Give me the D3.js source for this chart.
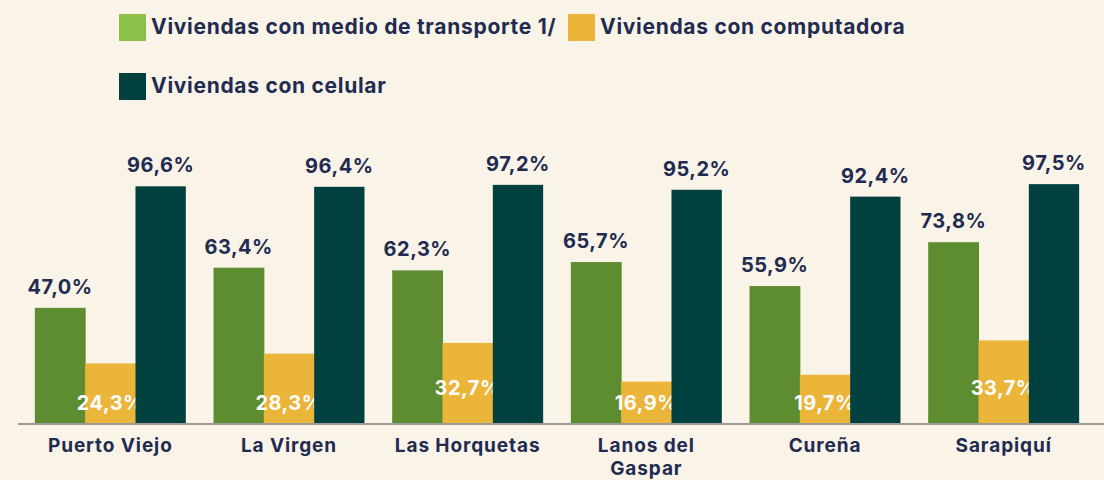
<!DOCTYPE html>
<html>
<head>
<meta charset="utf-8">
<script src="https://cdn.jsdelivr.net/npm/d3@7"></script>
<style>
  body { margin: 0; background: #faf3e8; }
  svg { display: block; font-family: "Inter", "Lato", sans-serif; font-weight: 700; }
</style>
</head>
<body>
<svg id="chart" width="1104" height="480"></svg>
<script>
// data
const categories = ["Puerto Viejo", "La Virgen", "Las Horquetas", "Lanos del Gaspar", "Cureña", "Sarapiquí"];
const seriesNames = ["Viviendas con medio de transporte 1/", "Viviendas con computadora", "Viviendas con celular"];
const transporte = [47.0, 63.4, 62.3, 65.7, 55.9, 73.8];
const computadora = [24.3, 28.3, 32.7, 16.9, 19.7, 33.7];
const celular = [96.6, 96.4, 97.2, 95.2, 92.4, 97.5];

const barColors = ["#5e8c31", "#ebb53a", "#00413f"];
const legendColors = ["#8cc04b", "#ebb53a", "#00413f"];
const navy = "#1f2b50";

const svg = d3.select("#chart");
const baseY = 423;

const x0 = d3.scaleBand().domain(categories).range([21, 1093]).paddingInner(0.155).paddingOuter(0.0775);
const x1 = d3.scaleBand().domain([0, 1, 2]).range([0, x0.bandwidth()]);
const y = d3.scaleLinear().domain([0, 100]).range([baseY, 178]);

const allSeries = [transporte, computadora, celular];

// bars
const groups = svg.selectAll("g.cat")
  .data(categories)
  .join("g")
  .attr("class", "cat")
  .attr("transform", d => "translate(" + x0(d) + ",0)");

groups.each(function(cat, ci) {
  const g = d3.select(this);
  allSeries.forEach(function(vals, si) {
    const v = vals[ci];
    g.append("rect")
      .attr("x", x1(si))
      .attr("y", y(v))
      .attr("width", x1.bandwidth() + (si < 2 ? 0.5 : 0))
      .attr("height", baseY - y(v))
      .attr("fill", barColors[si]);

    const label = v.toFixed(1).replace(".", ",") + "%";
    const cx = x1(si) + x1.bandwidth() / 2;
    const t = g.append("text")
      .attr("x", cx)
      .attr("text-anchor", "middle")
      .attr("font-size", 20)
      .attr("letter-spacing", 0.5);
    if (si === 1) {
      // labels inside yellow bars, near the base
      t.attr("y", v > 30 ? baseY - 28 : baseY - 13).attr("fill", "#ffffff");
    } else {
      t.attr("y", y(v) - 14).attr("fill", navy);
    }
    t.text(label);
  });
});

// axis line
svg.append("line")
  .attr("x1", 18).attr("x2", 1104)
  .attr("y1", baseY + 1).attr("y2", baseY + 1)
  .attr("stroke", "#9a9a9a")
  .attr("stroke-width", 2);

// category labels (wrap the long one)
const wrapped = {"Lanos del Gaspar": ["Lanos del", "Gaspar"]};
categories.forEach(function(cat) {
  const lines = wrapped[cat] || [cat];
  const t = svg.append("text")
    .attr("text-anchor", "middle")
    .attr("font-size", 19)
    .attr("letter-spacing", 0.9)
    .attr("fill", navy);
  lines.forEach(function(line, i) {
    t.append("tspan")
      .attr("x", x0(cat) + x0.bandwidth() / 2)
      .attr("y", 452 + i * 23)
      .text(line);
  });
});

// legend
const legendPos = [[119, 14], [568, 14], [119, 73]];
seriesNames.forEach(function(name, i) {
  const lg = svg.append("g").attr("transform", "translate(" + legendPos[i][0] + "," + legendPos[i][1] + ")");
  lg.append("rect").attr("width", 27).attr("height", 27).attr("fill", legendColors[i]);
  lg.append("text")
    .attr("x", 32)
    .attr("y", 20)
    .attr("font-size", 21)
    .attr("letter-spacing", 0.7)
    .attr("fill", navy)
    .text(name);
});
</script>
</body>
</html>
